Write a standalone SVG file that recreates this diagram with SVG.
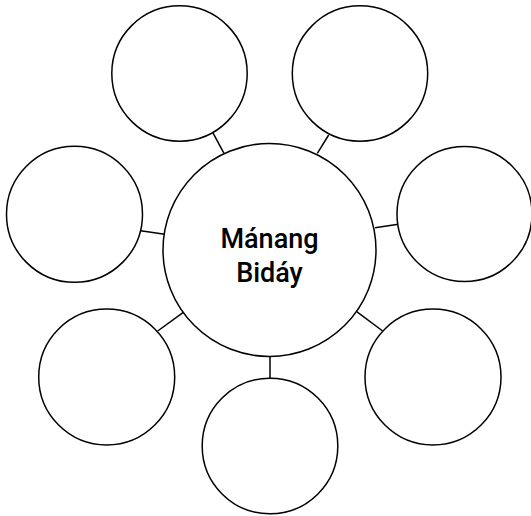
<svg xmlns="http://www.w3.org/2000/svg" width="531" height="516" viewBox="0 0 531 516">
<style>
.node{fill:#fff;stroke:#000;stroke-width:1.5}
.edge{stroke:#000;stroke-width:1.5;fill:none}
.label{font-family:Roboto,"Liberation Sans",Arial,sans-serif;font-weight:500;font-size:27px;fill:#000;text-anchor:middle}
</style>
<rect width="531" height="516" fill="#fff"/>
<g id="connectors">
<line class="edge" x1="212.7" y1="132.3" x2="224" y2="153.3"/>
<line class="edge" x1="328.7" y1="135" x2="317.3" y2="153.3"/>
<line class="edge" x1="140.7" y1="230.7" x2="164.7" y2="234.3"/>
<line class="edge" x1="398.3" y1="224.3" x2="375" y2="227.7"/>
<line class="edge" x1="157.7" y1="331" x2="183.3" y2="312.3"/>
<line class="edge" x1="382.7" y1="331" x2="356.7" y2="311.7"/>
<line class="edge" x1="270" y1="355.7" x2="270" y2="378"/>
</g>
<g id="center">
<circle class="node" cx="269.5" cy="250" r="106.5"/>
<text class="label" x="269.5" y="248.3">Mánang</text>
<text class="label" x="269.5" y="281.7">Bidáy</text>
</g>
<g id="top-left"><circle class="node" cx="179.5" cy="73.5" r="67.7"/></g>
<g id="top-right"><circle class="node" cx="360" cy="73.5" r="67.7"/></g>
<g id="left"><circle class="node" cx="74.5" cy="214.3" r="68"/></g>
<g id="right"><circle class="node" cx="464.5" cy="214" r="67.5"/></g>
<g id="bottom-left"><circle class="node" cx="106.7" cy="377" r="68"/></g>
<g id="bottom-right"><circle class="node" cx="433" cy="377" r="68"/></g>
<g id="bottom"><circle class="node" cx="270" cy="446" r="67.8"/></g>
</svg>
